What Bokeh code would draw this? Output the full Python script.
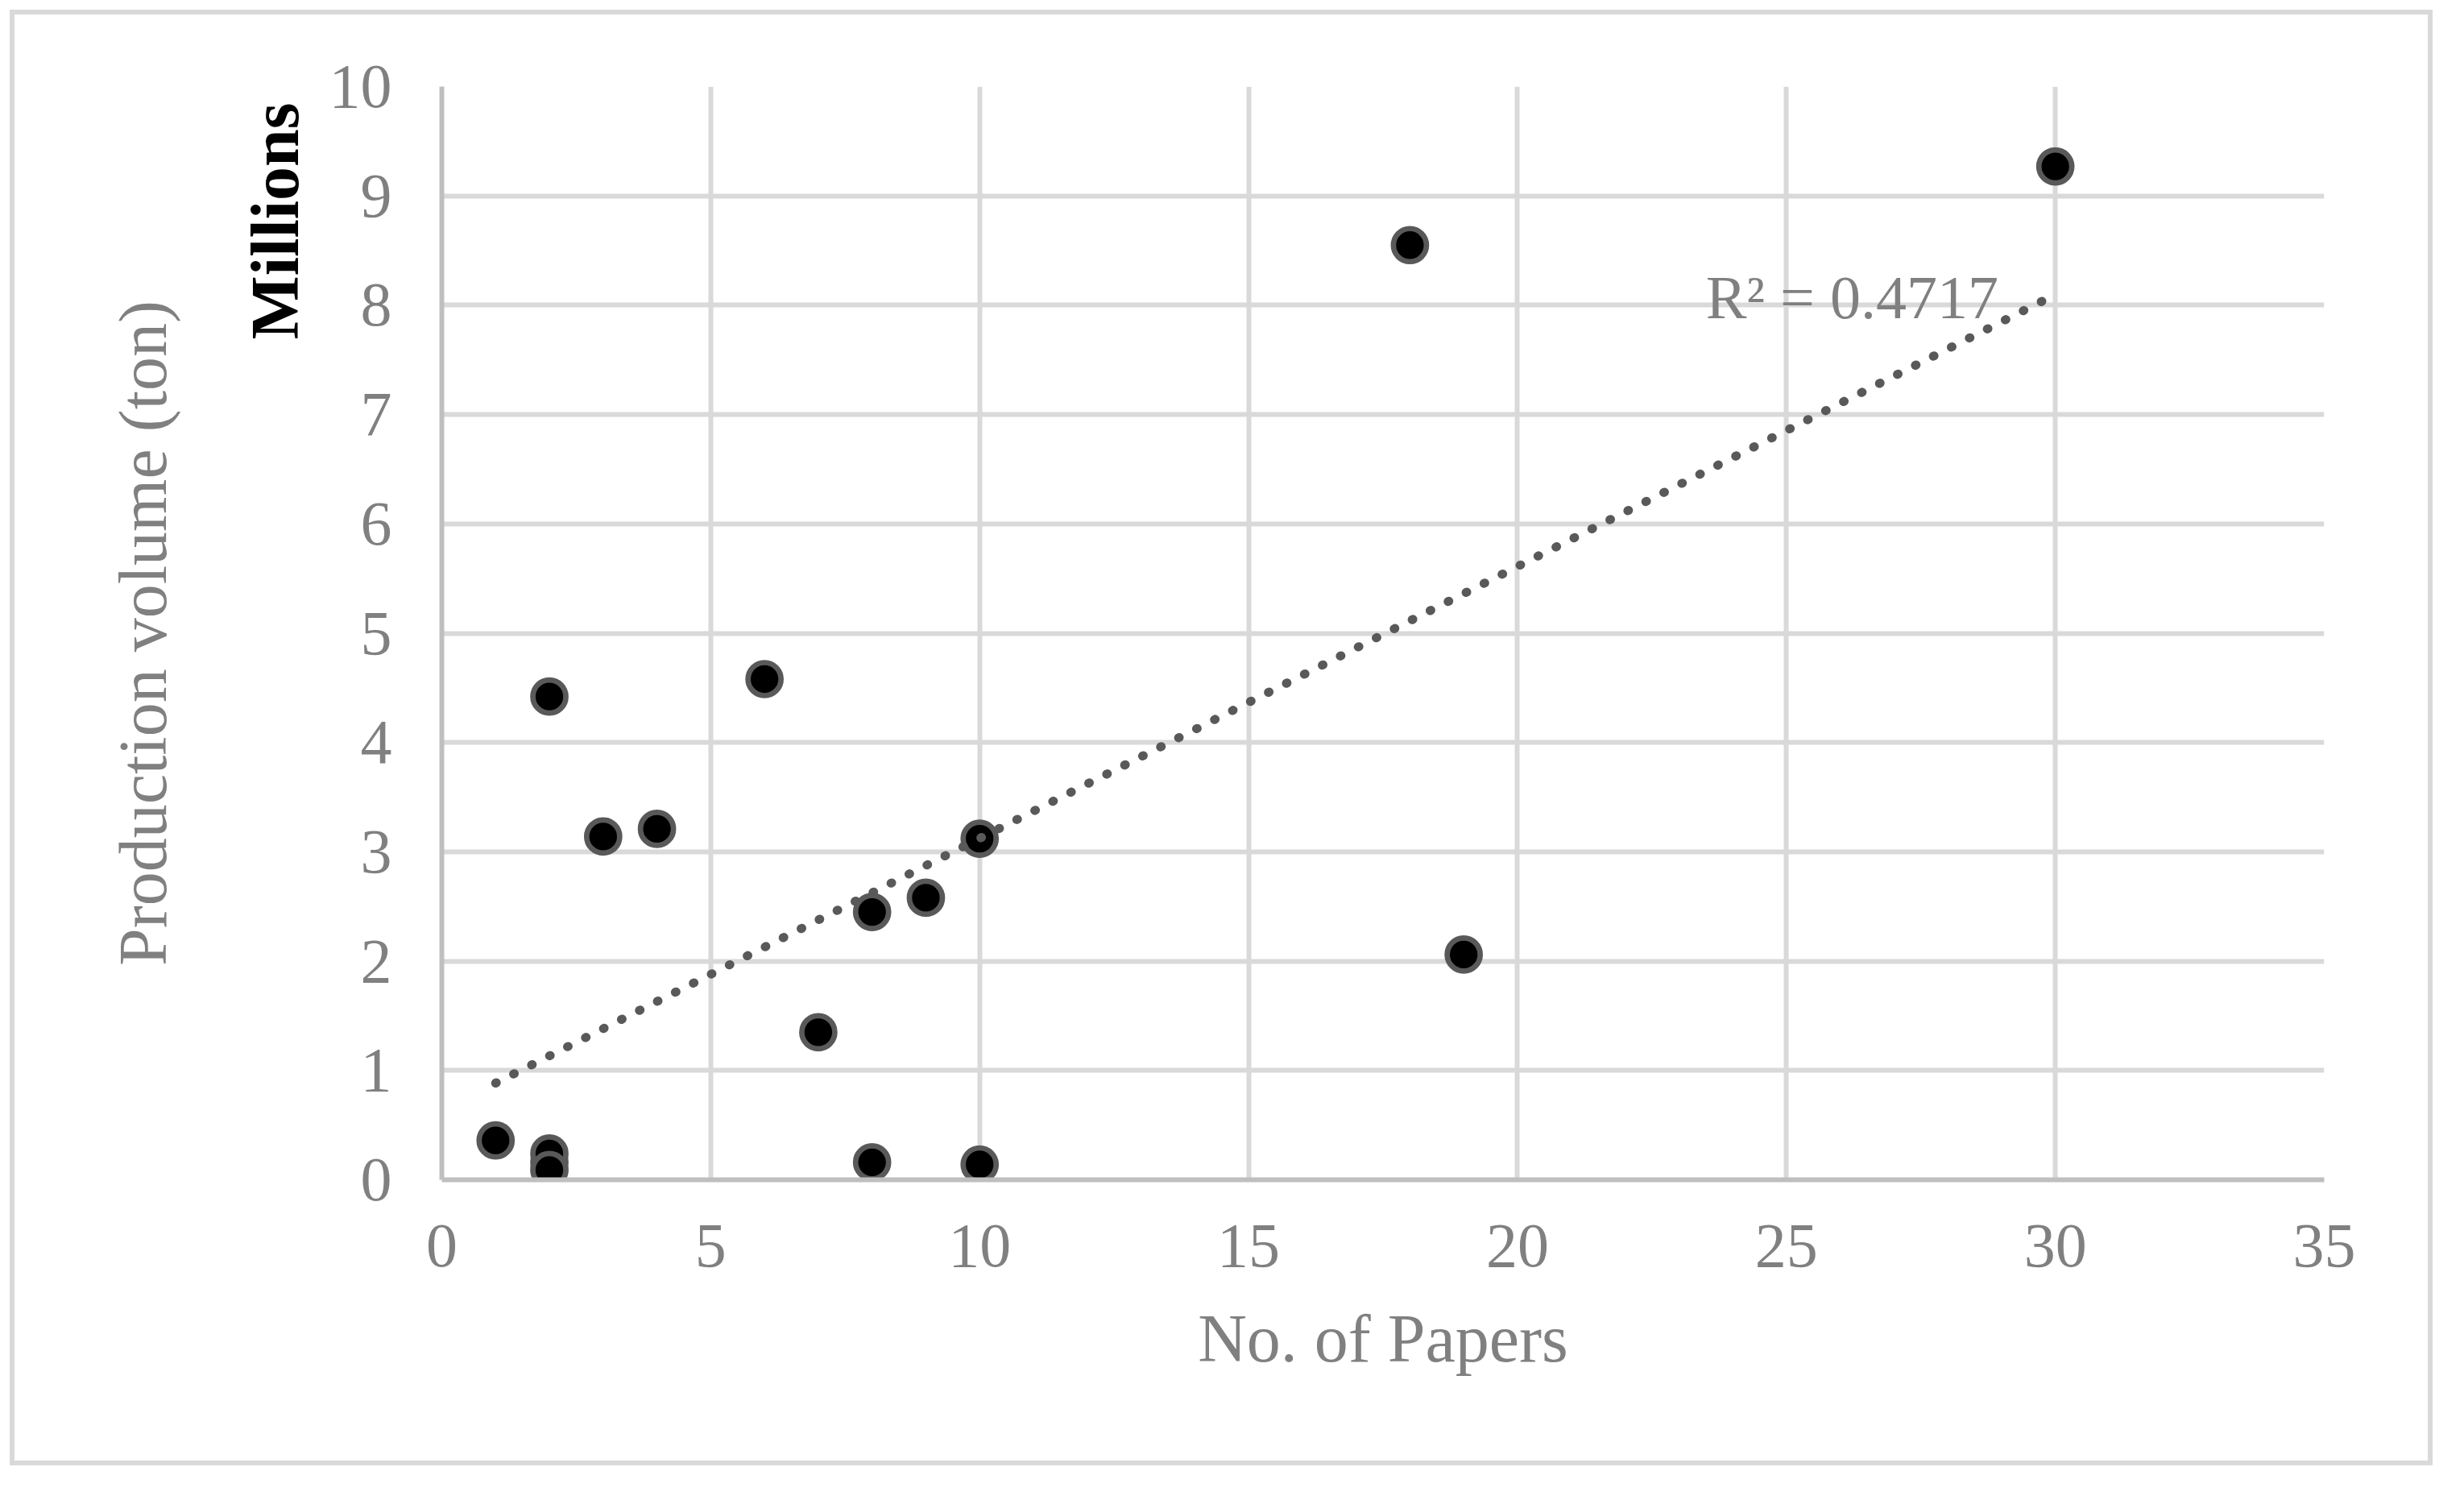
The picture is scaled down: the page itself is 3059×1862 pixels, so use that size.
import numpy as np
from bokeh.plotting import figure
from bokeh.models import Range1d, FixedTicker, Label, ColumnDataSource, Title
from bokeh.embed import file_html
from bokeh.resources import INLINE

# Data (one point at x=2 is hidden under its neighbours)
papers = [2, 1, 2, 2, 2, 3, 4, 6, 7, 8, 8, 9, 10, 10, 18, 19, 30]
production_millions = [0.16, 0.36, 0.24, 0.09, 4.42, 3.14, 3.21, 4.58, 1.35,
                       2.45, 0.16, 2.58, 3.12, 0.14, 8.55, 2.06, 9.27]
x_ticks = [0, 5, 10, 15, 20, 25, 30, 35]
y_ticks = [0, 1, 2, 3, 4, 5, 6, 7, 8, 9, 10]
r2_text = "R² = 0.4717"

FONT = "Liberation Serif"
GRAY_TXT = "#808080"

# outer chart-area border drawn with layered inset shadows
# (white band 12px on left/top, then a 6px light-grey ring)
border_css = "inset 12px 12px 0 0 white, inset 6px 6px 0 12px #d9d9d9"

p = figure(width=3020, height=1819,
           x_range=Range1d(0, 35), y_range=Range1d(0, 10),
           output_backend="svg", toolbar_location=None,
           min_border_left=548, min_border_right=135,
           min_border_top=107, min_border_bottom=355,
           background_fill_color="white", border_fill_color=None,
           styles={"box-shadow": border_css, "background-color": "white"})
p.outline_line_color = None

# grids
p.xgrid.ticker = FixedTicker(ticks=x_ticks)
p.ygrid.ticker = FixedTicker(ticks=y_ticks)
for g in (p.xgrid, p.ygrid):
    g.grid_line_color = "#d9d9d9"
    g.grid_line_width = 6

# axes
p.xaxis.ticker = FixedTicker(ticks=x_ticks)
p.yaxis.ticker = FixedTicker(ticks=y_ticks)
for ax in (p.xaxis, p.yaxis):
    ax.axis_line_color = "#bfbfbf"
    ax.axis_line_width = 6
    ax.major_tick_line_color = None
    ax.minor_tick_line_color = None
    ax.major_tick_out = 0
    ax.major_tick_in = 0
    ax.major_label_text_font = FONT
    ax.major_label_text_font_size = "78px"
    ax.major_label_text_color = GRAY_TXT
    ax.axis_label_text_font = FONT
    ax.axis_label_text_font_size = "84px"
    ax.axis_label_text_color = GRAY_TXT
    ax.axis_label_text_font_style = "normal"

p.xaxis.axis_label = "No. of Papers"
p.xaxis.major_label_standoff = 56
p.yaxis.major_label_standoff = 62
p.xaxis.axis_label_standoff = 40

# left-side titles: "Millions" (bold, top) then the axis title
t_mill = Title(text="Millions", align="right", offset=20,
               text_font=FONT, text_font_size="84px", text_color="black",
               text_font_style="bold", standoff=36)
p.add_layout(t_mill, "left")
t_prod = Title(text="Production volume (ton)", align="center",
               text_font=FONT, text_font_size="84px", text_color=GRAY_TXT,
               text_font_style="normal", standoff=101)
p.add_layout(t_prod, "left")

src = ColumnDataSource(dict(x=papers, y=production_millions))
p.scatter("x", "y", source=src, size=41, fill_color="black",
          line_color="#595959", line_width=6.7)

# linear trendline (least squares through the data)
slope, intercept = np.polyfit(papers, production_millions, 1)
tx = [min(papers), max(papers)]
ty = [slope * v + intercept for v in tx]
p.line(tx, ty, line_color="#595959", line_width=11, line_dash="1 24",
       line_cap="round")

p.add_layout(Label(x=23.5, y=8.07, text=r2_text, text_font=FONT,
                   text_font_size="76px", text_color=GRAY_TXT,
                   text_align="left", text_baseline="alphabetic"))

open("out.html", "w").write(file_html(p, INLINE))
